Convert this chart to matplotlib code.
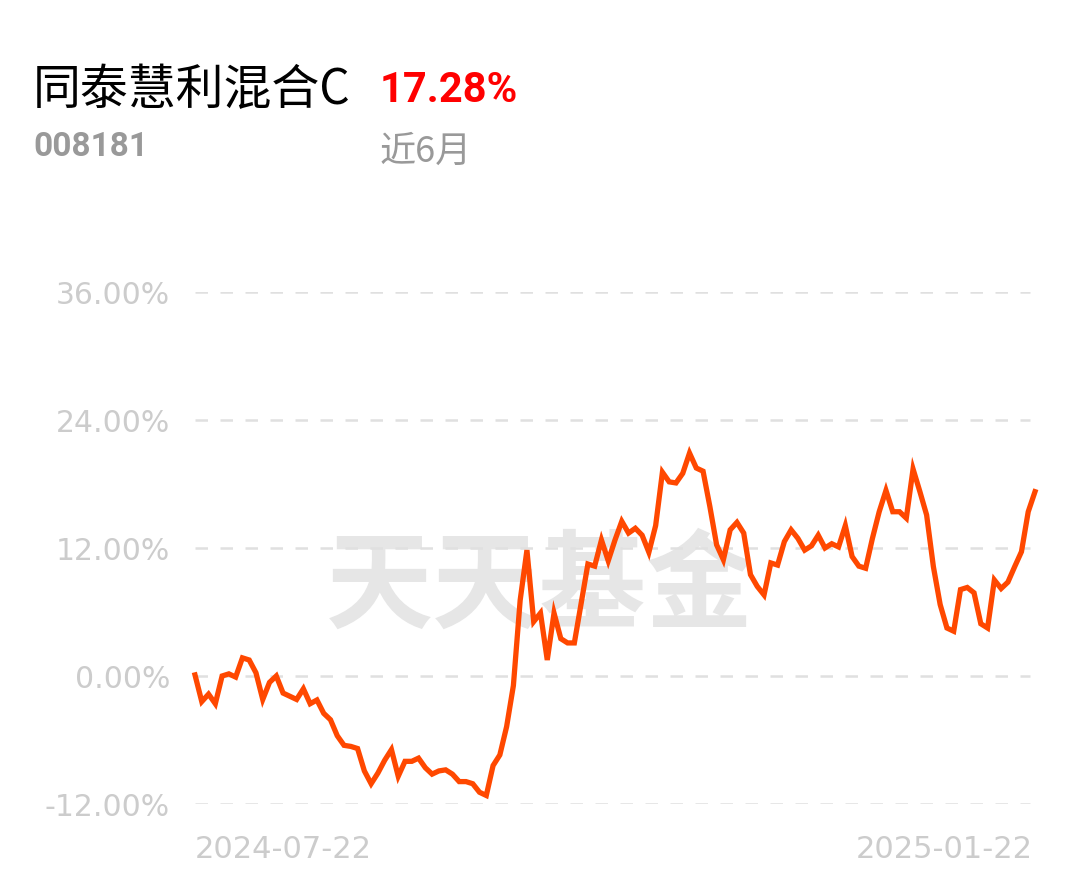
import numpy as np
import matplotlib
matplotlib.use("Agg")
import matplotlib.pyplot as plt

plt.rcParams['font.family'] = ['Noto Sans CJK SC', 'DejaVu Sans']

fund_name = "同泰慧利混合C"
fund_code = "008181"
period_label = "近6月"
period_return = "17.28%"
start_label = "2024-07-22"
end_label = "2025-01-22"

# cumulative return (%) per trading day
returns = [
    0.1, -2.4, -1.7, -2.6, 0.0, 0.2, -0.1, 1.7, 1.5, 0.3,
    -2.2, -0.6, 0.0, -1.6, -1.9, -2.2, -1.2, -2.6, -2.25, -3.5,
    -4.1, -5.6, -6.5, -6.6, -6.8, -8.9, -10.1, -9.1, -7.9, -6.9,
    -9.4, -8.0, -8.0, -7.7, -8.6, -9.2, -8.9, -8.8, -9.2, -9.9,
    -9.9, -10.1, -10.9, -11.2, -8.4, -7.4, -4.75, -0.9,
    7.1, 11.8, 5.1, 5.9, 1.5, 5.9, 3.5, 3.1, 3.1, 6.8,
    10.5, 10.3, 12.75, 10.8, 12.75, 14.5, 13.4, 13.85, 13.2, 11.6,
    14.1, 19.1, 18.2, 18.1, 19.0, 20.9, 19.5, 19.2, 15.9, 12.3,
    10.9, 13.7, 14.4, 13.4, 9.5, 8.4, 7.6,
    10.6, 10.4, 12.6, 13.7, 12.9, 11.8, 12.2, 13.2, 12.0, 12.4,
    12.1, 14.1, 11.2, 10.3, 10.1, 12.9, 15.4, 17.4, 15.4, 15.4,
    14.8, 19.4, 17.3, 15.1, 10.25, 6.7, 4.5, 4.2, 8.1, 8.3,
    7.8, 4.9, 4.5, 9.0, 8.2, 8.8, 10.25, 11.65, 15.4, 17.28,
]
y_ticks = [-12, 0, 12, 24, 36]

W, H = 1080, 881
fig = plt.figure(figsize=(W / 100, H / 100), dpi=100)
fig.patch.set_facecolor("white")

ax = fig.add_axes([195 / W, (H - 804) / H, 840 / W, 512 / H])
ax.set_xlim(0, len(returns) - 1)
ax.set_ylim(-12, 36)
for s in ax.spines.values():
    s.set_visible(False)
ax.set_xticks([])
ax.set_yticks(y_ticks)
ax.set_yticklabels([f"{v:.2f}%" for v in y_ticks], color="#cccccc", fontsize=21.5,
                   family=["DejaVu Sans"])
ax.tick_params(axis="y", length=0, pad=18)

for v in y_ticks:
    ax.axhline(v, xmax=0.994, color="#e0e0e0", lw=1.8, dashes=(5, 5), zorder=1)

# watermark
ax.text(0.41, 0.42, "天天基金", transform=ax.transAxes, ha="center", va="center",
        fontsize=77, fontweight="bold", color="#e6e6e6", zorder=0)

x = np.arange(len(returns))
ax.plot(x, returns, color="#ff4800", lw=3.8, solid_joinstyle="miter", zorder=3,
        clip_on=False)

# header texts
fig.text(33 / W, 1 - 90 / H, fund_name, fontsize=34.5, color="black", va="center")
fig.text(380 / W, 1 - 90 / H, period_return, fontsize=30, color="#ff0000",
         fontweight="bold", va="center", family=["Roboto", "DejaVu Sans"])
fig.text(33 / W, 1 - 147 / H, fund_code, fontsize=24, color="#999999",
         fontweight="bold", va="center", family=["Roboto", "DejaVu Sans"])
fig.text(380 / W, 1 - 152 / H, period_label, fontsize=26, color="#999999", va="center")

fig.text(195 / W, 1 - 850 / H, start_label, fontsize=22, color="#cccccc",
         ha="left", va="center", family=["DejaVu Sans"])
fig.text(1033 / W, 1 - 850 / H, end_label, fontsize=22, color="#cccccc",
         ha="right", va="center", family=["DejaVu Sans"])

fig.savefig("out.png", dpi=100, facecolor="white")
